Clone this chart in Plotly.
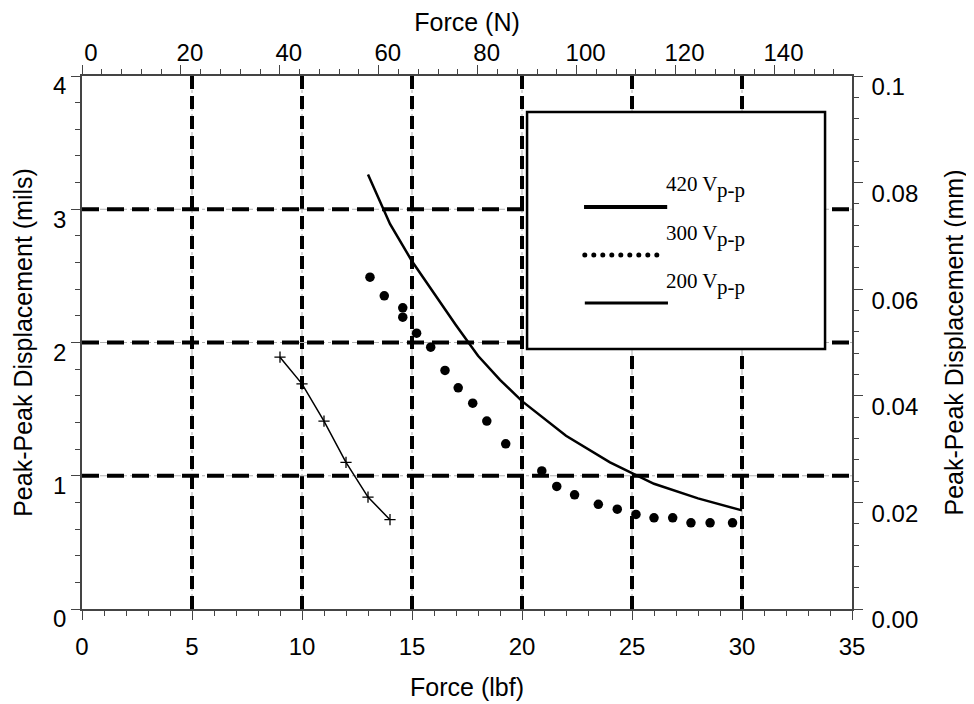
import plotly.graph_objects as go

# ---------------- data ----------------
force_lbf_420 = [13, 14, 15, 16, 17, 18, 19, 20, 22, 24, 26, 28, 30]
disp_mils_420 = [3.26, 2.89, 2.61, 2.37, 2.13, 1.90, 1.72, 1.56, 1.30, 1.10, 0.94, 0.83, 0.74]

force_lbf_300 = [13.09, 13.74, 14.58, 14.58, 15.21, 15.85, 16.5, 17.1, 17.76, 18.4, 19.26,
                 20.9, 21.58, 22.39, 23.47, 24.33, 25.18, 26.0, 26.85, 27.68, 28.55, 29.57]
disp_mils_300 = [2.49, 2.35, 2.26, 2.19, 2.07, 1.965, 1.79, 1.66, 1.545, 1.41, 1.24,
                 1.036, 0.92, 0.857, 0.786, 0.749, 0.71, 0.684, 0.684, 0.647, 0.647, 0.647]

force_lbf_200 = [9, 10, 11, 12, 13, 14]
disp_mils_200 = [1.89, 1.69, 1.41, 1.10, 0.84, 0.67]

series_labels = ["420 V", "300 V", "200 V"]
series_sub = "p-p"

# axes
lbf_range = [0, 35]
mils_range = [0, 4]
lbf_to_N = 4.448
N_range = [0, lbf_range[1] * lbf_to_N]
mm_range = [0, 0.1]

lbf_ticks = [0, 5, 10, 15, 20, 25, 30, 35]
N_ticks = [0, 20, 40, 60, 80, 100, 120, 140]
mils_ticks = [0, 1, 2, 3, 4]
mm_tickvals = [0.0, 0.02, 0.04, 0.06, 0.08, 0.1]
mm_ticktext = ["0.00", "0.02", "0.04", "0.06", "0.08", "0.1"]

grid_x = [5, 10, 15, 20, 25, 30]
grid_y = [1, 2, 3]

SANS = "Liberation Sans, Arial, sans-serif"
SERIF = "Liberation Serif, Times New Roman, serif"
AXCOL = "#444444"

fig = go.Figure()

fig.add_trace(go.Scatter(x=force_lbf_420, y=disp_mils_420, mode="lines",
                         line=dict(color="black", width=2.5), showlegend=False))
fig.add_trace(go.Scatter(x=force_lbf_300, y=disp_mils_300, mode="markers",
                         marker=dict(color="black", size=9.5, symbol="circle"), showlegend=False))
fig.add_trace(go.Scatter(x=force_lbf_200, y=disp_mils_200, mode="lines+markers",
                         line=dict(color="black", width=1.5),
                         marker=dict(symbol="cross-thin", size=8, line=dict(color="black", width=1.3)),
                         showlegend=False))

# gridlines (gray dash-dot under thick black dashes)
shapes = []
for gx in grid_x:
    shapes.append(dict(type="line", xref="x", yref="y", x0=gx, x1=gx, y0=mils_range[0], y1=mils_range[1],
                       line=dict(color="#b0b0b0", width=1, dash="dashdot"), layer="below"))
    shapes.append(dict(type="line", xref="x", yref="y", x0=gx, x1=gx, y0=mils_range[0], y1=mils_range[1],
                       line=dict(color="black", width=4, dash="13px,7px"), layer="below"))
for gy in grid_y:
    shapes.append(dict(type="line", xref="x", yref="y", x0=lbf_range[0], x1=lbf_range[1], y0=gy, y1=gy,
                       line=dict(color="#b0b0b0", width=1, dash="dashdot"), layer="below"))
    shapes.append(dict(type="line", xref="x", yref="y", x0=lbf_range[0], x1=lbf_range[1], y0=gy, y1=gy,
                       line=dict(color="black", width=4, dash="17px,8px"), layer="below"))

# legend box
shapes.append(dict(type="rect", xref="paper", yref="paper", x0=0.578, x1=0.965, y0=0.488, y1=0.9325,
                   fillcolor="white", line=dict(color="black", width=2.5), layer="above"))
# legend samples
shapes.append(dict(type="line", xref="paper", yref="paper", x0=0.652, x1=0.760, y0=0.754, y1=0.754,
                   line=dict(color="black", width=4), layer="above"))
for i in range(9):
    shapes.append(dict(type="circle", xref="paper", yref="paper", xsizemode="pixel", ysizemode="pixel",
                       xanchor=0.653 + i * 9 / 770, yanchor=0.664, x0=-2.5, x1=2.5, y0=-2.5, y1=2.5,
                       fillcolor="black", line=dict(color="black", width=0), layer="above"))
shapes.append(dict(type="line", xref="paper", yref="paper", x0=0.653, x1=0.761, y0=0.574, y1=0.574,
                   line=dict(color="black", width=3), layer="above"))

annotations = []
LEG_FONT = 21
for lbl, yy in zip(series_labels, [0.797, 0.706, 0.616]):
    annotations.append(dict(xref="paper", yref="paper", x=0.756, y=yy, xanchor="left", yanchor="middle",
                            showarrow=False, text=lbl,
                            font=dict(family=SERIF, size=LEG_FONT, color="black")))
    annotations.append(dict(xref="paper", yref="paper", x=0.756, y=yy, xanchor="left", yanchor="middle",
                            xshift=51, yshift=-6, showarrow=False, text=series_sub,
                            font=dict(family=SERIF, size=LEG_FONT, color="black")))

common = dict(showline=True, linecolor=AXCOL, linewidth=1.5, showgrid=False, zeroline=False,
              ticks="outside", ticklen=9, tickcolor=AXCOL, tickwidth=1, automargin=False,
              tickfont=dict(family=SANS, size=24, color="black"))
TFONT = dict(family=SANS, size=25, color="black")

# page body adds an 8px offset, so margins are compensated
fig.update_layout(
    width=974, height=704,
    margin=dict(l=74, r=130, t=68, b=103, autoexpand=False),
    paper_bgcolor="white", plot_bgcolor="white",
    showlegend=False,
    shapes=shapes, annotations=annotations,
    xaxis=dict(range=lbf_range, tickvals=lbf_ticks,
               minor=dict(dtick=1, tick0=0, ticks="outside", ticklen=5, tickcolor=AXCOL),
               title=dict(text="Force (lbf)", font=TFONT, standoff=20),
               ticklabelstandoff=6, **common),
    yaxis=dict(range=mils_range, tickvals=mils_ticks,
               minor=dict(dtick=0.2, tick0=0, ticks="outside", ticklen=5, tickcolor=AXCOL),
               title=dict(text="Peak-Peak Displacement (mils)", font=TFONT, standoff=13),
               ticklabelshift=10, **common),
    xaxis2=dict(range=N_range, tickvals=N_ticks, overlaying="x", side="top", anchor="y",
                minor=dict(dtick=4, tick0=0, ticks="outside", ticklen=5, tickcolor=AXCOL),
                title=dict(text="Force (N)", font=TFONT, standoff=8),
                ticklabelshift=9, ticklabelstandoff=-5, **common),
    yaxis2=dict(range=mm_range, tickvals=mm_tickvals, ticktext=mm_ticktext, overlaying="y", side="right",
                anchor="x",
                minor=dict(dtick=0.004, tick0=0, ticks="outside", ticklen=5, tickcolor=AXCOL),
                title=dict(text="Peak-Peak Displacement (mm)", font=TFONT, standoff=28),
                ticklabelshift=11, ticklabelstandoff=4, **common),
)

# attach invisible trace to the secondary axes so they render
fig.add_trace(go.Scatter(x=[N_range[0]], y=[mm_range[0]], xaxis="x2", yaxis="y2", mode="markers",
                         marker=dict(opacity=0), hoverinfo="skip", showlegend=False))

fig.write_html("out.html")
